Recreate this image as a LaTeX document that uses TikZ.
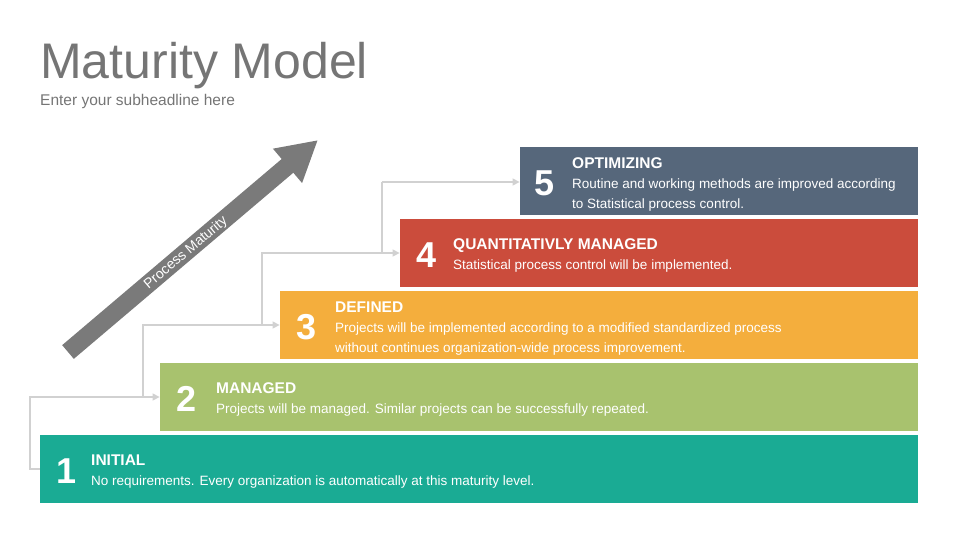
\documentclass[tikz,border=0pt]{standalone}
\usepackage{fontspec}
\setmainfont{Liberation Sans}
\usetikzlibrary{arrows.meta}
\definecolor{cA}{HTML}{1AAB94}
\definecolor{cB}{HTML}{A8C26E}
\definecolor{cC}{HTML}{F4AE3D}
\definecolor{cD}{HTML}{CB4C3C}
\definecolor{cE}{HTML}{56677B}
\definecolor{txtg}{HTML}{757575}
\begin{document}
\begin{tikzpicture}[x=1pt,y=-1pt,
  bar/.style={inner sep=0,minimum height=68pt,anchor=north east},
  num/.style={text=white,font=\bfseries\fontsize{36}{36}\selectfont,anchor=center},
  ttl/.style={text=white,font=\bfseries\fontsize{15.5}{15.5}\selectfont,anchor=base west,inner sep=0},
  dsc/.style={text=white,font=\fontsize{13.5}{20.5}\selectfont,anchor=base west,inner sep=0,align=left},
  conn/.style={draw=black!18,line width=1.3pt},
  arr/.style={conn,-{Triangle[length=7pt,width=7pt]}}]
\useasboundingbox (0,0) rectangle (960,540);
\node[anchor=base west,text=txtg,font=\fontsize{50}{50}\selectfont,inner sep=0] (title) at (40,79) {Maturity Model};
\node[anchor=base west,text=txtg,font=\fontsize{15.5}{15.5}\selectfont,inner sep=0] (sub) at (40,106) {Enter your subheadline here};
% bars
\node[bar,fill=cA,minimum width=878pt] (b1) at (918,435) {};
\node[bar,fill=cB,minimum width=758pt] (b2) at (918,363) {};
\node[bar,fill=cC,minimum width=638pt] (b3) at (918,291) {};
\node[bar,fill=cD,minimum width=518pt] (b4) at (918,219) {};
\node[bar,fill=cE,minimum width=398pt] (b5) at (918,147) {};
% numbers
\node[num] (n1) at (67,471) {1};
\node[num] (n2) at (187,399) {2};
\node[num] (n3) at (307,327) {3};
\node[num] (n4) at (427,255) {4};
\node[num] (n5) at (545,183) {5};
% texts
\node[ttl] (t1) at (91,465) {INITIAL};
\node[dsc] (d1) at (91,485) {No requirements. Every organization is automatically at this maturity level.};
\node[ttl] (t2) at (216,393) {MANAGED};
\node[dsc] (d2) at (216,413) {Projects will be managed. Similar projects can be successfully repeated.};
\node[ttl] (t3) at (335,312) {DEFINED};
\node[dsc] (d3) at (335,352.5) {Projects will be implemented according to a modified standardized process\\without continues organization-wide process improvement.};
\node[ttl] (t4) at (453,249) {QUANTITATIVLY MANAGED};
\node[dsc] (d4) at (453,269) {Statistical process control will be implemented.};
\node[ttl] (t5) at (572,168) {OPTIMIZING};
\node[dsc] (d5) at (572,208.5) {Routine and working methods are improved according\\to Statistical process control.};
% connectors
\coordinate (j1) at (143,397);
\coordinate (j2) at (262,325);
\coordinate (j3) at (382,253);
\draw[conn] (b1.west|-0,469) -- (30,469) -- (30,397) -- (j1);
\draw[arr] (j1) -- (b2.west|-j1);
\draw[conn] (j1) -- (143,325) -- (j2);
\draw[arr] (j2) -- (b3.west|-j2);
\draw[conn] (j2) -- (262,253) -- (j3);
\draw[arr] (j3) -- (b4.west|-j3);
\draw[conn] (j3) -- (382,182);
\draw[arr] (382,182) -- (b5.west|-0,182);
% big arrow
\coordinate (a0) at (68,352);
\coordinate (a1) at (318,140);
\draw[draw=black!52,line width=18pt,-{Triangle[length=40pt,width=42pt]}] (a0) -- (a1);
\node[text=white,font=\fontsize{14}{14}\selectfont,rotate=40.3] (pm) at (186,253) {Process Maturity};
\end{tikzpicture}
\end{document}
